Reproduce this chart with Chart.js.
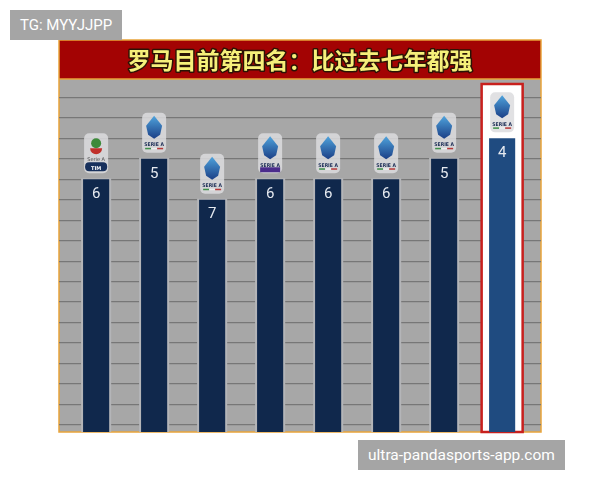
<!DOCTYPE html>
<html>
<head>
<meta charset="utf-8">
<script src="https://cdn.jsdelivr.net/npm/chart.js@4"></script>
<style>
  body { margin: 0; background: #fff; }
  #wrap { position: relative; width: 600px; height: 480px; }
  .mark { position: absolute; background: #a5a5a5; color: #fff; font-family: Roboto, "DejaVu Sans", sans-serif; line-height: 30px; padding: 0 10px; }
</style>
</head>
<body>
<div id="wrap">
  <canvas id="rankChart"></canvas>
  <div class="mark" style="left:10px; top:10px; height:30px; font-size:15px;">TG: MYYJJPP</div>
  <div class="mark" style="left:358px; top:440px; height:30px; font-size:15.5px;">ultra-pandasports-app.com</div>
</div>
<script>
// seasons (not shown on the picture) and Roma's league position at this point
const seasons = ['17/18', '18/19', '19/20', '20/21', '21/22', '22/23', '23/24', '24/25'];
const positions = [6, 5, 7, 6, 6, 6, 5, 4];
const logoKinds = ['old', 'new', 'new', 'tim', 'new', 'new', 'new', 'new'];
const titleText = '罗马目前第四名：比过去七年都强';
const gridTicks = [2, 3, 4, 5, 6, 7, 8, 9, 10, 11, 12, 13, 14, 15, 16, 17, 18];
const highlightIndex = 7;

const yTop = 1.1;
const yBottom = 18.35;

function barTop(bar) {
  return Math.min(bar.y, bar.base);
}

function drawLogo(ctx, cx, bottom, kind) {
  const w = 24, h = 40;
  const t = bottom - h;
  ctx.save();
  ctx.fillStyle = 'rgba(220,220,222,0.85)';
  ctx.beginPath();
  ctx.roundRect(cx - w / 2, t, w, h, 5);
  ctx.fill();
  if (kind === 'old') {
    ctx.fillStyle = '#3d8a3a';
    ctx.beginPath(); ctx.arc(cx, t + 10, 5, 0, Math.PI * 2); ctx.fill();
    ctx.fillStyle = '#c0302a';
    ctx.beginPath(); ctx.arc(cx, t + 15, 6, 0, Math.PI); ctx.fill();
    ctx.fillStyle = '#4a4a4a';
    ctx.font = '5px "DejaVu Sans"';
    ctx.textAlign = 'center';
    ctx.fillText('Serie A', cx, t + 26);
    ctx.fillStyle = '#17305c';
    ctx.beginPath(); ctx.roundRect(cx - 11, t + 29, 22, 9, 4); ctx.fill();
    ctx.fillStyle = '#fff';
    ctx.font = 'bold 5px "DejaVu Sans"';
    ctx.fillText('TIM', cx, t + 35.5);
  } else {
    const g = ctx.createLinearGradient(cx, t + 3, cx, t + 26);
    g.addColorStop(0, '#4fa3dc');
    g.addColorStop(1, '#1b3f86');
    ctx.fillStyle = g;
    ctx.beginPath();
    ctx.moveTo(cx, t + 3);
    ctx.lineTo(cx + 8, t + 13);
    ctx.lineTo(cx + 6, t + 22);
    ctx.lineTo(cx, t + 26);
    ctx.lineTo(cx - 6, t + 22);
    ctx.lineTo(cx - 8, t + 13);
    ctx.closePath();
    ctx.fill();
    ctx.fillStyle = '#1b2c55';
    ctx.font = 'bold 5px "DejaVu Sans Condensed", "DejaVu Sans"';
    ctx.textAlign = 'center';
    ctx.fillText('SERIE A', cx, t + 32);
    if (kind === 'tim') {
      ctx.fillStyle = '#4b2c8c';
      ctx.fillRect(cx - 10, t + 34, 20, 5);
    } else {
      ctx.fillStyle = '#3f8f4a'; ctx.fillRect(cx - 9, t + 35, 6, 1.5);
      ctx.fillStyle = '#eeeeee'; ctx.fillRect(cx - 3, t + 35, 6, 1.5);
      ctx.fillStyle = '#b83a3a'; ctx.fillRect(cx + 3, t + 35, 6, 1.5);
    }
  }
  ctx.restore();
}

const panelPlugin = {
  id: 'panel',
  beforeDraw(chart) {
    const { ctx, chartArea, titleBlock } = chart;
    const left = chartArea.left, right = chartArea.right;
    ctx.save();
    // grey plot background
    ctx.fillStyle = '#a7a7a7';
    ctx.fillRect(left, chartArea.top, right - left, chartArea.bottom - chartArea.top);
    // red banner
    ctx.fillStyle = '#a30303';
    ctx.fillRect(left, titleBlock.top, right - left, titleBlock.bottom - titleBlock.top);
    ctx.strokeStyle = '#e9a43a';
    ctx.lineWidth = 1.5;
    ctx.strokeRect(left, titleBlock.top, right - left, chartArea.bottom - titleBlock.top);
    ctx.beginPath();
    ctx.moveTo(left, titleBlock.bottom);
    ctx.lineTo(right, titleBlock.bottom);
    ctx.stroke();
    // title text with dark outline
    const cx = (left + right) / 2;
    const cy = (titleBlock.top + titleBlock.bottom) / 2 + 1;
    ctx.font = 'bold 23px "Noto Sans CJK SC"';
    ctx.textAlign = 'center';
    ctx.textBaseline = 'middle';
    ctx.lineJoin = 'round';
    ctx.strokeStyle = '#2a1405';
    ctx.lineWidth = 3;
    ctx.strokeText(titleText, cx, cy);
    ctx.fillStyle = '#f6f07a';
    ctx.fillText(titleText, cx, cy);
    ctx.restore();
  },
  beforeDatasetsDraw(chart) {
    const { ctx, chartArea } = chart;
    const bars = chart.getDatasetMeta(0).data;
    ctx.save();
    bars.forEach((bar, i) => {
      const top = barTop(bar);
      if (i === highlightIndex) {
        const x0 = bar.x - 20.5;
        ctx.fillStyle = '#ffffff';
        ctx.fillRect(x0, chartArea.top + 5, 41, chartArea.bottom - chartArea.top - 5);
        ctx.strokeStyle = '#c8201e';
        ctx.lineWidth = 2.5;
        ctx.strokeRect(x0, chartArea.top + 5, 41, chartArea.bottom - chartArea.top - 5);
      } else {
        ctx.fillStyle = '#b4b5b8';
        ctx.fillRect(bar.x - bar.width / 2 - 2, top - 1, bar.width + 4, chartArea.bottom - top + 1);
      }
    });
    ctx.restore();
  },
  afterDatasetsDraw(chart) {
    const { ctx } = chart;
    const bars = chart.getDatasetMeta(0).data;
    ctx.save();
    bars.forEach((bar, i) => {
      const top = barTop(bar);
      ctx.fillStyle = '#e6eaf0';
      ctx.font = '15px Roboto';
      ctx.textAlign = 'center';
      ctx.textBaseline = 'middle';
      ctx.fillText(String(positions[i]), bar.x, top + 15);
      drawLogo(ctx, bar.x, top - 6, logoKinds[i]);
    });
    ctx.restore();
  }
};

new Chart(document.getElementById('rankChart'), {
  type: 'bar',
  data: {
    labels: seasons,
    datasets: [{
      label: '排名',
      data: positions.map((p, i) => ({ x: i, y: [yBottom, p] })),
      backgroundColor: positions.map((p, i) => i === highlightIndex ? '#1f4b80' : '#10284c'),
      borderWidth: 0,
      borderSkipped: false,
      barPercentage: 0.45,
      categoryPercentage: 1
    }]
  },
  options: {
    responsive: true,
    maintainAspectRatio: false,
    animation: false,
    layout: { padding: { left: 59, right: 59, top: 40, bottom: 40 } },
    plugins: {
      legend: { display: false },
      tooltip: { enabled: false },
      title: {
        display: true,
        text: titleText,
        color: 'rgba(0,0,0,0)',
        font: { family: 'Noto Sans CJK SC', size: 23, weight: 'bold', lineHeight: 1 },
        padding: { top: 8, bottom: 8 }
      }
    },
    scales: {
      x: {
        type: 'linear',
        min: -0.64,
        max: 7.67,
        offset: false,
        grid: { display: false },
        ticks: { display: false },
        border: { display: false }
      },
      y: {
        reverse: true,
        min: yTop,
        max: yBottom,
        afterBuildTicks(axis) {
          axis.ticks = gridTicks.map(v => ({ value: v }));
        },
        ticks: { display: false },
        grid: { color: '#777777', lineWidth: 1.2, drawTicks: false },
        border: { display: false }
      }
    }
  },
  plugins: [panelPlugin]
});
</script>
</body>
</html>
